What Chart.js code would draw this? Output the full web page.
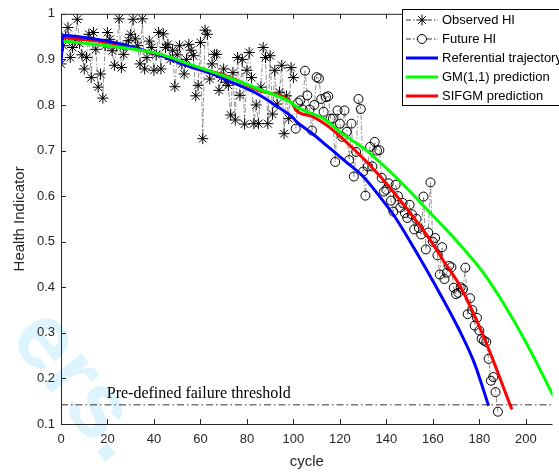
<!DOCTYPE html>
<html><head><meta charset="utf-8">
<script src="https://cdn.jsdelivr.net/npm/chart.js@4/dist/chart.umd.min.js"></script>
<style>html,body{margin:0;padding:0;background:#fff;}#wrap{width:559px;height:474px;position:relative;}</style>
</head><body><div id="wrap"><canvas id="c" width="559" height="474"></canvas></div>
<script>
// ---------------- data ----------------
const xTickValues = [0,20,40,60,80,100,120,140,160,180,200];
const yTickValues = [0.1,0.2,0.3,0.4,0.5,0.6,0.7,0.8,0.9,1];

const observedStart = 0;   // cycle of first observed point
const observedHI = [
 0.89,0.93,0.95,0.97,0.904,0.926,0.94,0.988,0.935,0.91,
 0.879,0.904,0.955,0.86,0.959,0.922,0.839,0.868,0.815,0.93,
 0.959,0.944,0.919,0.887,0.93,0.989,0.882,0.911,0.93,0.941,
 0.955,0.988,0.945,0.93,0.89,0.989,0.879,0.904,0.94,0.926,
 0.876,0.91,0.959,0.879,0.956,0.926,0.933,0.90,0.92,0.84,
 0.91,0.93,0.89,0.868,0.90,0.933,0.92,0.908,0.82,0.843,
 0.937,0.726,0.964,0.955,0.857,0.89,0.911,0.911,0.832,0.86,
 0.879,0.85,0.843,0.778,0.871,0.767,0.904,0.821,0.90,0.758,
 0.876,0.915,0.86,0.759,0.80,0.759,0.839,0.926,0.904,0.759,
 0.908,0.78,0.876,0.802,0.828,0.887,0.737,0.82,0.77,0.882,
 0.86
];

const futureStart = 101;   // cycle of first future point
const futureHI = [
 0.748,0.805,0.81,0.79,0.875,0.821,0.79,0.744,0.80,0.861,
 0.858,0.813,0.785,0.817,0.819,0.77,0.77,0.675,0.788,0.759,
 0.73,0.788,0.741,0.679,0.759,0.643,0.697,0.813,0.791,0.654,
 0.601,0.665,0.708,0.665,0.719,0.70,0.701,0.64,0.61,0.614,
 0.628,0.59,0.566,0.625,0.60,0.575,0.585,0.563,0.552,0.581,
 0.56,0.527,0.55,0.53,0.516,0.599,0.483,0.52,0.63,0.50,
 0.508,0.47,0.428,0.488,0.418,0.432,0.447,0.444,0.399,0.385,
 0.388,0.40,0.396,0.443,0.341,0.376,0.35,0.316,0.333,0.305,
 0.287,0.283,0.28,0.243,0.195,0.203,0.17,0.127
];

const refCycles = [0,1,10,20,30,42,55,65,72,85,92,100,101,108,115,122,130,137,144,152,161,171,178,184];
const refValues = [0.89,0.953,0.948,0.94,0.928,0.91,0.885,0.868,0.853,0.823,0.80,0.771,0.765,0.738,0.708,0.678,0.643,0.60,0.552,0.485,0.405,0.31,0.232,0.14];

const gmCycles = [1,20,42,55,70,85,100,101,113,121,131,144,158,170,182,191,200,212,214];
const gmValues = [0.94,0.93,0.912,0.89,0.864,0.835,0.802,0.797,0.77,0.737,0.702,0.642,0.568,0.503,0.43,0.36,0.28,0.16,0.14];

const sifCycles = [1,20,42,60,72,85,100,101,108,115,122,130,137,144,151,158,165,172,182,194];
const sifValues = [0.948,0.937,0.91,0.88,0.862,0.832,0.80,0.789,0.775,0.753,0.722,0.683,0.645,0.603,0.558,0.51,0.455,0.40,0.29,0.132];

const failureThreshold = 0.142;

const legendLabels = ['Observed HI','Future HI','Referential trajectory','GM(1,1) prediction','SIFGM prediction'];
const thresholdLabel = 'Pre-defined failure threshold';

// ---------------- helpers ----------------
const pts = (xs, ys) => ys.map((v,i)=>({x:xs[i], y:v}));
const seq = (start, ys) => ys.map((v,i)=>({x:start+i, y:v}));
const SANS = '"Liberation Sans", Arial, sans-serif';
const AX = '#262626';

function drawStar(ctx, x, y, r){
  ctx.beginPath();
  for (let k=0;k<4;k++){
    const a = k*Math.PI/4;
    ctx.moveTo(x - r*Math.cos(a), y - r*Math.sin(a));
    ctx.lineTo(x + r*Math.cos(a), y + r*Math.sin(a));
  }
  ctx.stroke();
}

const decor = {
  id:'decor',
  beforeDraw(chart){
    const ctx = chart.ctx;
    ctx.save();
    ctx.fillStyle = '#fff';
    ctx.fillRect(0,0,chart.width,chart.height);
    // faint watermark
    ctx.translate(28, 322);
    ctx.rotate(52*Math.PI/180);
    ctx.fillStyle = 'rgba(90,200,245,0.2)';
    ctx.font = 'bold 92px ' + SANS;
    ctx.textBaseline = 'middle';
    ctx.fillText('ers.', 0, 0);
    ctx.restore();
  },
  afterDatasetsDraw(chart){
    const ctx = chart.ctx, a = chart.chartArea;
    const xs = chart.scales.x, ys = chart.scales.y;
    ctx.save();
    // threshold line
    ctx.strokeStyle = '#000'; ctx.lineWidth = 0.8;
    ctx.setLineDash([7,3,1.5,3]);
    const ty = ys.getPixelForValue(failureThreshold);
    ctx.beginPath(); ctx.moveTo(a.left, ty); ctx.lineTo(a.right, ty); ctx.stroke();
    ctx.setLineDash([]);
    ctx.fillStyle = '#000';
    ctx.font = '16px "Liberation Serif", "Times New Roman", serif';
    ctx.textBaseline = 'alphabetic'; ctx.textAlign = 'left';
    ctx.fillText(thresholdLabel, xs.getPixelForValue(19.7), ty - 7);
    // axes box (left, bottom, top)
    ctx.strokeStyle = AX; ctx.lineWidth = 1;
    ctx.beginPath();
    ctx.moveTo(a.left+0.5, a.top+0.5); ctx.lineTo(a.left+0.5, a.bottom+0.5); ctx.lineTo(a.right, a.bottom+0.5);
    ctx.moveTo(a.left+0.5, a.top+0.5); ctx.lineTo(a.right, a.top+0.5);
    ctx.stroke();
    // inward ticks
    const tl = 5;
    ctx.beginPath();
    xTickValues.forEach(v=>{
      const px = Math.round(xs.getPixelForValue(v))+0.5;
      ctx.moveTo(px, a.bottom); ctx.lineTo(px, a.bottom - tl);
      ctx.moveTo(px, a.top); ctx.lineTo(px, a.top + tl);
    });
    yTickValues.forEach(v=>{
      const py = Math.round(ys.getPixelForValue(v))+0.5;
      ctx.moveTo(a.left, py); ctx.lineTo(a.left + tl, py);
    });
    ctx.stroke();
    // legend
    const bx = 402.5, by = 9.5, bw = 170, bh = 96;
    ctx.fillStyle = '#fff'; ctx.fillRect(bx, by, bw, bh);
    ctx.strokeStyle = '#000'; ctx.lineWidth = 1; ctx.strokeRect(bx, by, bw, bh);
    const rows = [20, 39, 58, 77, 96];
    const x0 = 406, x1 = 438, xm = 422;
    ctx.font = '13px ' + SANS; ctx.textBaseline = 'middle'; ctx.fillStyle = '#000';
    rows.forEach((ry,i)=>{
      if (i < 2){
        ctx.strokeStyle = '#000'; ctx.lineWidth = 0.8;
        ctx.setLineDash([5,2,1.5,2]);
        ctx.beginPath(); ctx.moveTo(x0, ry); ctx.lineTo(x1, ry); ctx.stroke();
        ctx.setLineDash([]);
        ctx.lineWidth = 1;
        if (i === 0){ ctx.fillStyle='#fff'; ctx.fillRect(xm-6, ry-6, 12, 12); drawStar(ctx, xm, ry, 5.5); }
        else { ctx.fillStyle='#fff'; ctx.beginPath(); ctx.arc(xm, ry, 4.5, 0, Math.PI*2); ctx.fill(); ctx.stroke(); }
      } else {
        ctx.strokeStyle = ['#0000ff','#00ff00','#ff0000'][i-2]; ctx.lineWidth = 3;
        ctx.beginPath(); ctx.moveTo(x0, ry); ctx.lineTo(x1, ry); ctx.stroke();
      }
      ctx.fillStyle = '#000';
      ctx.fillText(legendLabels[i], 442, ry + 0.5);
    });
    ctx.restore();
  }
};

new Chart(document.getElementById('c'), {
  type: 'line',
  data: {
    datasets: [
      { label: legendLabels[0], data: seq(observedStart, observedHI), order: 5,
        borderColor: 'rgba(0,0,0,0.55)', borderWidth: 0.8, borderDash: [5,2,1.5,2], tension: 0,
        pointStyle: 'star', pointRadius: 5.5, pointBorderColor: '#000', pointBackgroundColor: '#000', pointBorderWidth: 1 },
      { label: legendLabels[1], data: seq(futureStart, futureHI), order: 4,
        borderColor: 'rgba(0,0,0,0.55)', borderWidth: 0.8, borderDash: [5,2,1.5,2], tension: 0,
        pointStyle: 'circle', pointRadius: 4.5, pointBorderColor: '#000', pointBackgroundColor: 'rgba(0,0,0,0)', pointBorderWidth: 1 },
      { label: legendLabels[2], data: pts(refCycles, refValues), order: 2,
        borderColor: '#0000ff', borderWidth: 3, pointRadius: 0, cubicInterpolationMode: 'monotone' },
      { label: legendLabels[3], data: pts(gmCycles, gmValues), order: 1,
        borderColor: '#00ff00', borderWidth: 3, pointRadius: 0, cubicInterpolationMode: 'monotone' },
      { label: legendLabels[4], data: pts(sifCycles, sifValues), order: 3,
        borderColor: '#ff0000', borderWidth: 3, pointRadius: 0, cubicInterpolationMode: 'monotone' }
    ]
  },
  options: {
    responsive: false, animation: false, devicePixelRatio: 1,
    layout: { padding: { top: 11, right: 0, left: 0, bottom: 0 } },
    plugins: { legend: { display: false }, tooltip: { enabled: false } },
    scales: {
      x: { type: 'linear', min: 0, max: 211.5,
        afterBuildTicks: s => { s.ticks = xTickValues.map(v=>({value:v})); },
        afterFit: s => { s.height = 50; },
        grid: { display: false, drawTicks: false }, border: { display: false },
        ticks: { font: { family: SANS, size: 13 }, color: AX, padding: 8, maxRotation: 0, autoSkip: false },
        title: { display: true, text: 'cycle', font: { family: SANS, size: 15 }, color: AX, padding: { top: 0, bottom: 3 } } },
      y: { type: 'linear', min: 0.1, max: 1,
        afterBuildTicks: s => { s.ticks = yTickValues.map(v=>({value:v})); },
        afterFit: s => { s.width = 61; },
        grid: { display: false, drawTicks: false }, border: { display: false },
        ticks: { font: { family: SANS, size: 13 }, color: AX, padding: 6,
                 callback: v => String(Math.round(v*10)/10) },
        title: { display: true, text: 'Health Indicator', font: { family: SANS, size: 15 }, color: AX, padding: { top: 11, bottom: 0 } } }
    }
  },
  plugins: [decor]
});
</script>
</body></html>
